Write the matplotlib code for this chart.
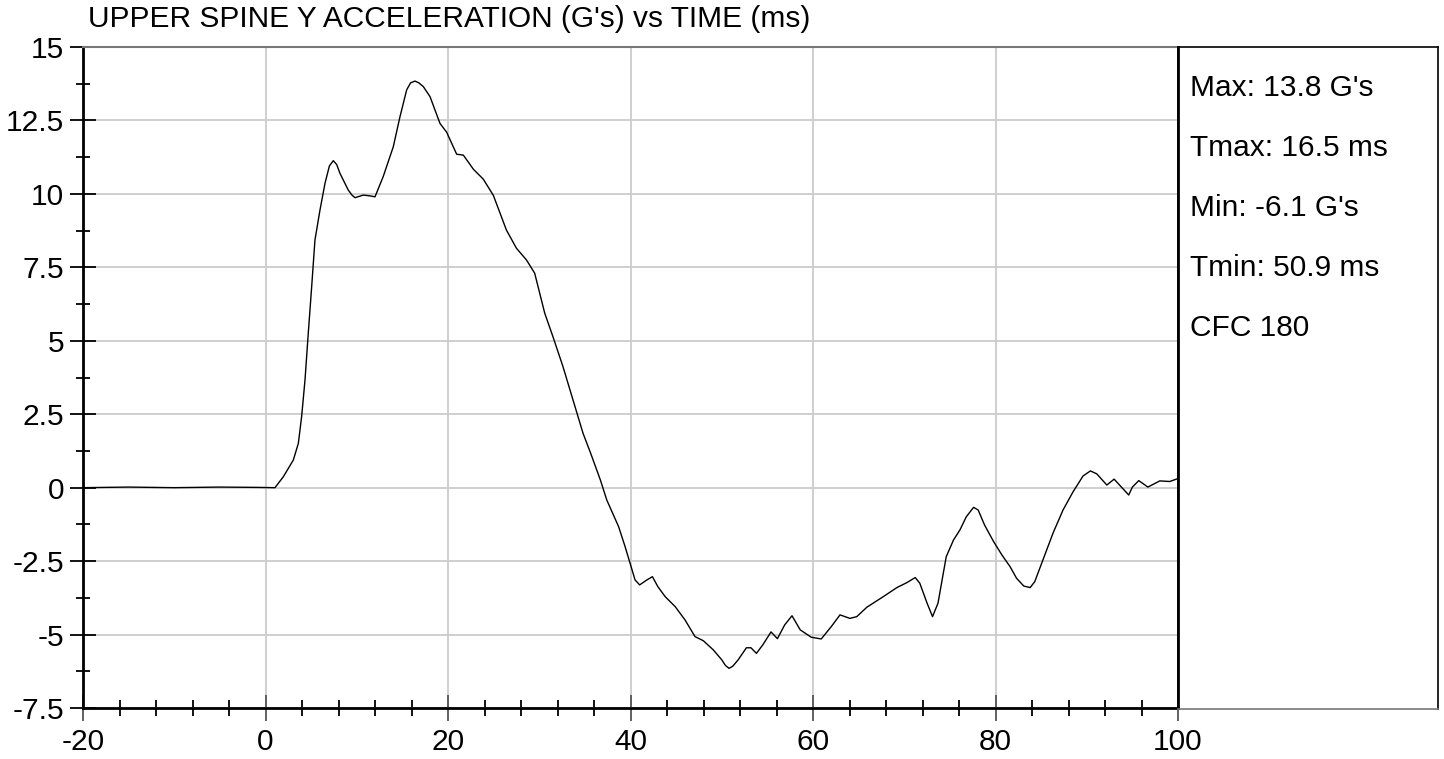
import numpy as np
import matplotlib
matplotlib.use("Agg")
import matplotlib.pyplot as plt
from matplotlib.ticker import MultipleLocator

plt.rcParams['font.family'] = ['Liberation Sans', 'DejaVu Sans']
plt.rcParams['axes.unicode_minus'] = False

## Donnees

temps = [-20, -15, -10, -5, -1, 0.5, 1.04, 1.95, 3.05, 3.6, 3.96, 4.33, 4.69, 5.06,
         5.42, 5.97, 6.52, 7.0, 7.43, 7.8, 8.16, 9.07, 9.5, 9.81, 10.72, 11.5, 12.0,
         12.9, 14.0, 14.74, 15.47, 15.9, 16.38, 16.8, 17.3, 18.03, 19.12, 19.85,
         20.95, 21.68, 22.78, 23.87, 24.97, 26.4, 27.5, 28.6, 29.5, 30.6, 31.5, 32.6,
         33.7, 34.8, 35.6, 36.7, 37.4, 38.7, 39.4, 39.95, 40.5, 41.0, 41.8, 42.4,
         43.0, 43.8, 44.9, 45.97, 47.07, 47.98, 49.07, 50.0, 50.4, 50.8, 51.2, 51.8,
         52.7, 53.2, 53.8, 54.5, 55.4, 56.1, 56.9, 57.7, 58.6, 59.8, 60.9, 62.0, 62.96,
         64.05, 64.8, 65.9, 67.7, 69.2, 70.3, 71.2, 71.7, 72.5, 73.1, 73.7, 74.6, 75.4,
         76.1, 76.8, 77.6, 78.1, 78.8, 79.8, 80.7, 81.6, 82.3, 83.1, 83.8, 84.3, 85.2,
         86.3, 87.4, 88.5, 89.6, 90.4, 91.1, 92.2, 93.0, 93.8, 94.6, 95.0, 95.7, 96.7,
         98.0, 99.1, 100.0]
accel = [0.0, 0.02, 0.0, 0.02, 0.01, 0.0, 0.0, 0.37, 0.94, 1.51, 2.42, 3.67, 5.27,
         6.84, 8.43, 9.45, 10.36, 10.95, 11.13, 11.0, 10.7, 10.13, 9.95, 9.87, 9.96,
         9.93, 9.9, 10.59, 11.6, 12.63, 13.54, 13.78, 13.84, 13.78, 13.65, 13.31,
         12.4, 12.1, 11.35, 11.32, 10.84, 10.5, 9.95, 8.77, 8.15, 7.75, 7.3, 5.94,
         5.14, 4.12, 2.98, 1.85, 1.2, 0.26, -0.42, -1.33, -2.0, -2.57, -3.14, -3.31,
         -3.14, -3.03, -3.37, -3.71, -4.05, -4.5, -5.07, -5.21, -5.52, -5.86, -6.05,
         -6.15, -6.08, -5.86, -5.45, -5.45, -5.64, -5.35, -4.91, -5.14, -4.67, -4.36,
         -4.84, -5.09, -5.15, -4.73, -4.33, -4.45, -4.39, -4.07, -3.71, -3.4, -3.23,
         -3.06, -3.25, -3.93, -4.39, -3.93, -2.35, -1.78, -1.44, -0.99, -0.67, -0.76,
         -1.27, -1.84, -2.29, -2.69, -3.08, -3.35, -3.4, -3.2, -2.46, -1.55, -0.76,
         -0.14, 0.40, 0.57, 0.47, 0.09, 0.29, 0.02, -0.25, 0.02, 0.24, 0.02, 0.23,
         0.21, 0.31]

titre = "UPPER SPINE Y ACCELERATION (G's) vs TIME (ms)"
stats = ["Max: 13.8 G's", "Tmax: 16.5 ms", "Min: -6.1 G's", "Tmin: 50.9 ms", "CFC 180"]

## Figure

W, H = 1444, 759
fig = plt.figure(figsize=(W / 100, H / 100), dpi=100)
ax = fig.add_axes([83 / W, 1 - 708 / H, (1178 - 83) / W, (708 - 47) / H])

ax.plot(temps, accel, color="black", lw=1.0)
ax.set_xlim(-20, 100)
ax.set_ylim(-7.5, 15)

ax.xaxis.set_major_locator(MultipleLocator(20))
ax.xaxis.set_minor_locator(MultipleLocator(4))
ax.yaxis.set_major_locator(MultipleLocator(2.5))
ax.yaxis.set_minor_locator(MultipleLocator(1.25))
ax.yaxis.set_major_formatter(matplotlib.ticker.FuncFormatter(lambda v, p: "%g" % v))

ax.grid(True, which="major", color="#cccccc", lw=1.3)
ax.set_axisbelow(True)

ax.tick_params(axis="y", which="major", direction="inout", length=19, width=1.3,
               labelsize=21.5, pad=4)
ax.tick_params(axis="y", which="minor", direction="inout", length=9.5, width=1.3)
ax.tick_params(axis="x", which="major", direction="inout", length=19, width=1.3,
               color="#555555", labelsize=21.5, pad=5)
ax.tick_params(axis="x", which="minor", direction="inout", length=11.5, width=1.3)

for s in ["left", "bottom", "right"]:
    ax.spines[s].set_color("black")
    ax.spines[s].set_linewidth(2)
ax.spines["top"].set_color("#777777")
ax.spines["top"].set_linewidth(1.5)

# Panneau des statistiques
ax2 = fig.add_axes([1178 / W, 1 - 709 / H, (1438 - 1178) / W, (709 - 47) / H])
ax2.set_xticks([])
ax2.set_yticks([])
for s in ax2.spines.values():
    s.set_color("black")
    s.set_linewidth(1.2)
ax2.spines["bottom"].set_color("#777777")
ax2.patch.set_alpha(0)

for k, txt in enumerate(stats):
    fig.text(1190 / W, 1 - (88 + 60 * k) / H, txt, fontsize=21.5, va="center", ha="left")

fig.text(88 / W, 1 - 19 / H, titre, fontsize=21.5, va="center", ha="left")

plt.savefig("out.png", dpi=100)
